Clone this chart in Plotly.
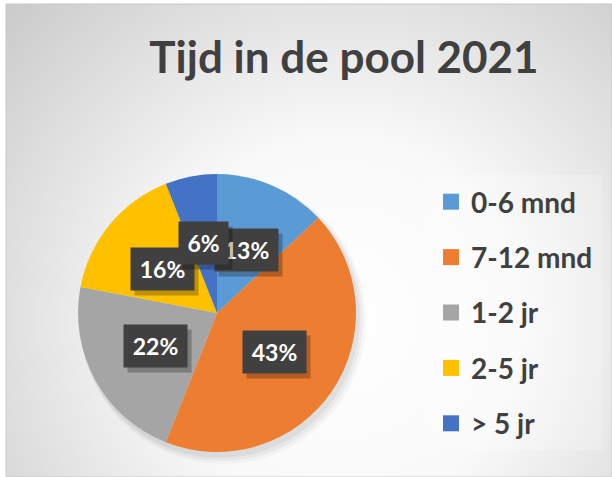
import base64
import plotly.graph_objects as go

W, H = 612, 477

categories = ["0-6 mnd", "7-12 mnd", "1-2 jr", "2-5 jr", "> 5 jr"]
values = [13, 43, 22, 16, 6]
colors = ["#5B9BD5", "#ED7D31", "#A5A5A5", "#FFC000", "#4472C4"]

# label box centers in pixels (style/position, not data)
label_pos = {"0-6 mnd": (246, 250), "7-12 mnd": (274, 352), "1-2 jr": (155, 346),
             "2-5 jr": (162, 269), "> 5 jr": (203, 243)}
label_order = ["0-6 mnd", "2-5 jr", "> 5 jr", "1-2 jr", "7-12 mnd"]

def px(x):
    return x / W

def py(y):
    return 1 - y / H

cx, cy, r = 217, 313, 139

svg = f'''<svg xmlns="http://www.w3.org/2000/svg" width="{W}" height="{H}">
<defs><radialGradient id="g" gradientUnits="userSpaceOnUse" cx="340" cy="320" r="460">
<stop offset="0" stop-color="#ffffff"/><stop offset="0.4" stop-color="#f9f9f9"/>
<stop offset="1" stop-color="#cbcbcb"/></radialGradient></defs>
<rect width="{W}" height="{H}" fill="url(#g)"/></svg>'''
src = "data:image/svg+xml;base64," + base64.b64encode(svg.encode()).decode()

fig = go.Figure()
fig.add_trace(go.Pie(
    labels=categories, values=values, sort=False, direction="clockwise", rotation=0,
    marker=dict(colors=colors, line=dict(width=0)), textinfo="none", showlegend=False,
    domain=dict(x=[px(cx - r), px(cx + r)], y=[py(cy + r), py(cy - r)]),
    hoverinfo="label+percent"))

for i, (cat, col) in enumerate(zip(categories, colors)):
    fig.add_trace(go.Scatter(x=[None], y=[None], mode="markers", name=cat,
                             legendgroup=f"g{i}",
                             marker=dict(symbol="square", size=17, color=col)))

total = sum(values)
annotations = []
for cat in label_order:
    v = values[categories.index(cat)]
    x, y = label_pos[cat]
    txt = f"{round(100 * v / total)}%"
    bw = 49 if len(txt) >= 3 else 35
    common = dict(xref="paper", yref="paper", xanchor="center", yanchor="middle",
                  showarrow=False, borderpad=7, width=bw, height=28)
    # soft shadow box (no text)
    annotations.append(dict(x=px(x + 4), y=py(y + 5), bgcolor="rgba(0,0,0,0.25)", text=" ",
                            font=dict(family="Lato", size=23), **common))
    annotations.append(dict(x=px(x), y=py(y), bgcolor="#404040", text=f"<b>{txt}</b>",
                            font=dict(family="Lato", size=23, color="white"), **common))

shapes = [
    # frame
    dict(type="rect", xref="paper", yref="paper", x0=px(6), x1=px(612), y0=py(477), y1=py(4),
         line=dict(color="#c8c8c8", width=1), layer="below"),
    # legend box
    dict(type="rect", xref="paper", yref="paper", x0=px(427), x1=px(602), y0=py(450), y1=py(175),
         fillcolor="rgba(255,255,255,0.22)", line=dict(width=0), layer="below"),
]
for d, a in [(10, 0.03), (7, 0.04), (4, 0.05)]:
    shapes.append(dict(type="circle", xref="paper", yref="paper",
                       x0=px(cx - r + 2), x1=px(cx + r + d), y0=py(cy + r + d + 2), y1=py(cy - r + 3),
                       fillcolor=f"rgba(0,0,0,{a})", line=dict(width=0), layer="below"))

fig.update_layout(
    width=W, height=H, margin=dict(l=0, r=0, t=0, b=0),
    paper_bgcolor="white", plot_bgcolor="rgba(0,0,0,0)",
    xaxis=dict(visible=False), yaxis=dict(visible=False),
    images=[dict(source=src, xref="paper", yref="paper", x=px(6), y=py(4),
                 sizex=px(612) - px(6), sizey=py(4) - py(477), sizing="stretch",
                 xanchor="left", yanchor="top", layer="below")],
    title=dict(text="<b>Tijd in de pool 2021</b>", x=px(344), xanchor="center",
               y=py(58), yanchor="middle",
               font=dict(family="Lato", size=44, color="#404040")),
    legend=dict(x=px(431), xanchor="left", y=py(177), yanchor="top",
                bgcolor="rgba(0,0,0,0)", tracegroupgap=16,
                font=dict(family="Lato", size=28, color="#404040", weight="bold")),
    annotations=annotations, shapes=shapes,
)

fig.write_html("out.html", config={"displayModeBar": False},
               post_script="document.body.style.margin='0';")
